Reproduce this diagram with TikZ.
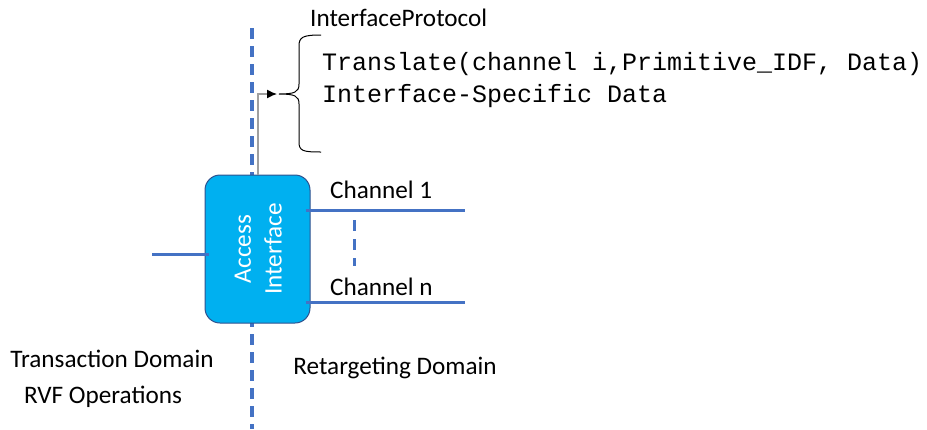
\documentclass[tikz,border=0pt]{standalone}
\usepackage{fontspec}
\setmainfont{Carlito}
\setmonofont{Liberation Mono}
\usetikzlibrary{arrows.meta}
\definecolor{lineblue}{HTML}{4472C4}
\definecolor{boxfill}{HTML}{00B0F0}
\definecolor{boxedge}{HTML}{2F528F}
\begin{document}
\begin{tikzpicture}[x=1pt,y=-1pt,
  lbl/.style={inner sep=0pt,font=\fontsize{25.2}{30}\selectfont},
  mono/.style={inner sep=0pt,anchor=west,font=\fontsize{25}{30}\selectfont\ttfamily},
  bluelink/.style={draw=lineblue,line width=3pt},
  divider/.style={draw=lineblue,line width=3.2pt,dash pattern=on 11pt off 7pt},
  accessbox/.style={draw=boxedge,line width=1pt,fill=boxfill,rounded corners=15pt,minimum width=105pt,minimum height=148pt,inner sep=0pt}]
\useasboundingbox (0,0) rectangle (927,429);
% domain divider
\coordinate (divtop) at (252,28);
\coordinate (divbot) at (252,429);
\draw[divider] (divtop) -- (divbot);
% access interface box
\node[accessbox] (ai) at (257.5,249) {};
\node[lbl,text=white,rotate=90] (acc) at (243,249) {Access};
\node[lbl,text=white,rotate=90] (intf) at (273,249) {Interface};
% left link
\coordinate (leftend) at (152,254);
\draw[bluelink] (leftend) -- ([xshift=4pt]ai.west |- leftend);
% channels
\coordinate (ch1end) at (465,210);
\coordinate (chnend) at (465,302);
\draw[bluelink] ([xshift=-5pt]ai.east |- ch1end) -- (ch1end);
\draw[bluelink] ([xshift=-5pt]ai.east |- chnend) -- (chnend);
\node[lbl,anchor=west] (ch1) at (330,190) {Channel 1};
\node[lbl,anchor=west] (chn) at (330,287) {Channel n};
\coordinate (dtop) at (354,220);
\coordinate (dbot) at (354,266);
\draw[draw=lineblue,line width=3pt,dash pattern=on 11pt off 8pt] (dtop) -- (dbot);
% protocol brace
\coordinate (bracetip) at (279,94);
\draw[line width=1pt] (321,35) .. controls (303,35) and (299,37) .. (299,46) -- (299,84)
  .. controls (299,92) and (295,94) .. (bracetip)
  .. controls (295,94) and (299,96) .. (299,104) -- (299,142)
  .. controls (299,151) and (303,152) .. (321,152);
\draw[draw=gray!75,line width=1.3pt,-{Latex[length=10pt,width=9pt,color=black]}] ([xshift=0.5pt]ai.north) |- ([xshift=-2pt]bracetip);
\node[lbl,anchor=west] (proto) at (310,18) {InterfaceProtocol};
\node[mono] (tr) at (322,64) {Translate(channel i,Primitive\_IDF, Data)};
\node[mono] (isd) at (322,96) {Interface-Specific Data};
% domains
\node[lbl] (td) at (112,359) {Transaction Domain};
\node[lbl] (rvf) at (103,397) {RVF Operations};
\node[lbl] (rd) at (395,368) {Retargeting Domain};
\end{tikzpicture}
\end{document}
